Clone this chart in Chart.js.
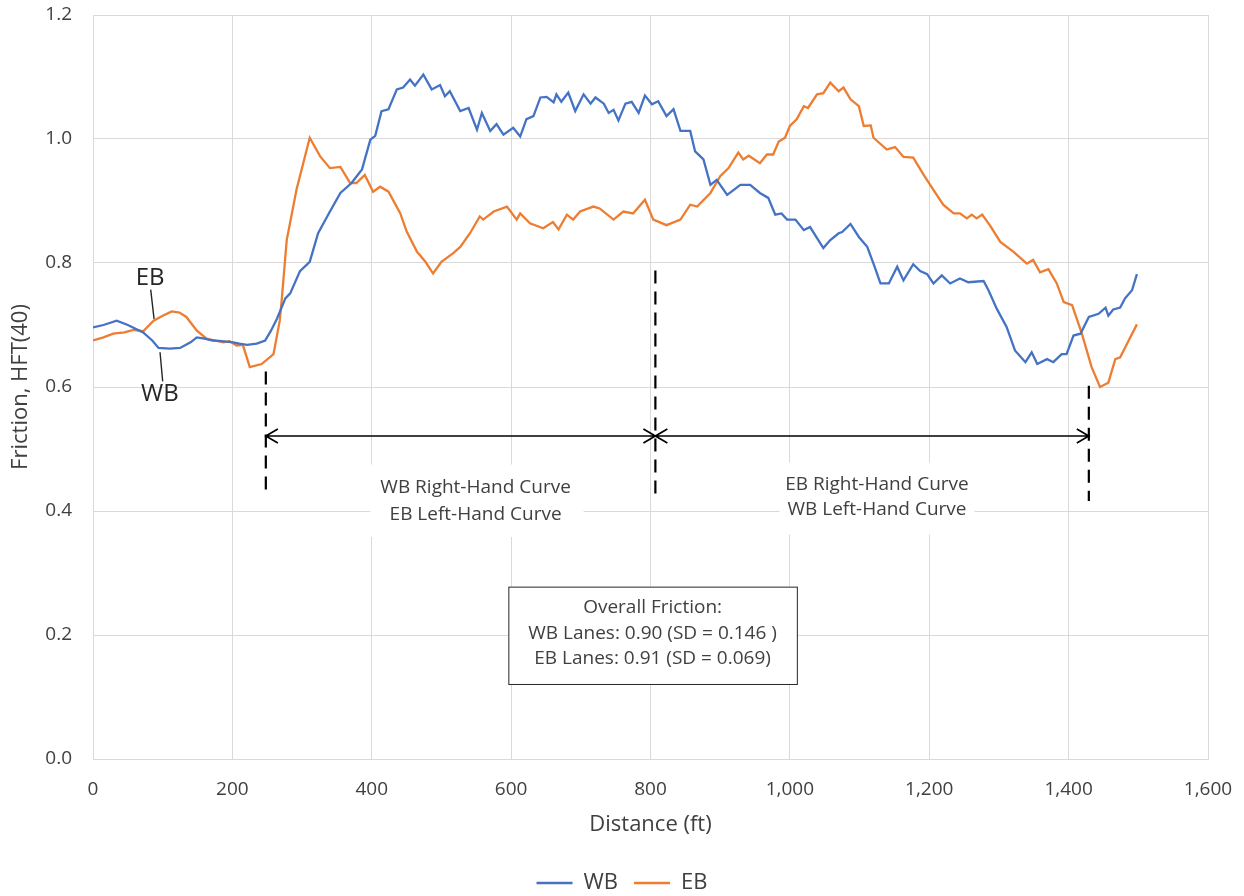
<!DOCTYPE html>
<html>
<head>
<meta charset="utf-8">
<script src="https://cdn.jsdelivr.net/npm/chart.js@4.4.1/dist/chart.umd.min.js"></script>
<style>
  html, body { margin: 0; padding: 0; background: #fff; overflow: hidden; }
  /* a little taller than the window: only empty legend margin falls below 896 */
  #wrap { width: 1244px; height: 904px; position: relative; }
</style>
</head>
<body>
<div id="wrap"><canvas id="chart"></canvas></div>
<script>
/* ── Data (distance in ft, friction HFT(40)) ─────────── */
const wbDist = [0, 15, 34, 50, 72, 85, 94, 110, 125, 140, 149, 160, 172, 185, 201, 210, 221, 235, 247, 255, 264, 276, 283, 297, 311, 323, 340, 355, 371, 386, 398, 405, 414, 424, 436, 445, 455, 462, 474, 486, 498, 505, 512, 527, 539, 551, 558, 570, 579, 589, 603, 613, 622, 632, 642, 651, 661, 665, 672, 682, 692, 704, 714, 721, 733, 740, 747, 754, 764, 773, 783, 792, 802, 811, 823, 833, 843, 857, 864, 876, 886, 895, 910, 929, 943, 957, 969, 979, 988, 996, 1008, 1020, 1029, 1039, 1048, 1058, 1070, 1075, 1087, 1099, 1111, 1120, 1130, 1142, 1154, 1163, 1177, 1187, 1197, 1206, 1218, 1230, 1244, 1256, 1278, 1285, 1297, 1311, 1323, 1338, 1347, 1355, 1369, 1378, 1390, 1397, 1407, 1417, 1429, 1443, 1453, 1457, 1464, 1474, 1481, 1491, 1498];
const wbFriction = [0.696, 0.700, 0.707, 0.700, 0.688, 0.675, 0.663, 0.662, 0.663, 0.672, 0.680, 0.678, 0.675, 0.674, 0.672, 0.670, 0.668, 0.670, 0.675, 0.690, 0.710, 0.743, 0.751, 0.787, 0.802, 0.848, 0.883, 0.913, 0.929, 0.951, 0.999, 1.005, 1.045, 1.048, 1.080, 1.083, 1.096, 1.086, 1.104, 1.080, 1.087, 1.069, 1.077, 1.045, 1.050, 1.015, 1.042, 1.013, 1.024, 1.007, 1.018, 1.004, 1.032, 1.037, 1.067, 1.068, 1.059, 1.072, 1.060, 1.075, 1.045, 1.072, 1.057, 1.067, 1.057, 1.042, 1.047, 1.030, 1.057, 1.060, 1.042, 1.070, 1.056, 1.061, 1.037, 1.048, 1.013, 1.013, 0.980, 0.967, 0.926, 0.934, 0.910, 0.926, 0.926, 0.913, 0.905, 0.878, 0.880, 0.870, 0.870, 0.853, 0.858, 0.840, 0.824, 0.837, 0.848, 0.850, 0.863, 0.842, 0.826, 0.799, 0.767, 0.767, 0.794, 0.772, 0.798, 0.787, 0.782, 0.767, 0.780, 0.767, 0.775, 0.769, 0.771, 0.756, 0.726, 0.697, 0.659, 0.640, 0.656, 0.637, 0.645, 0.640, 0.653, 0.653, 0.683, 0.686, 0.713, 0.718, 0.728, 0.715, 0.725, 0.728, 0.743, 0.756, 0.782];

const ebDist = [0, 15, 29, 45, 58, 72, 87, 100, 113, 124, 134, 149, 163, 175, 187, 196, 206, 215, 225, 242, 259, 268, 271, 278, 292, 311, 326, 340, 355, 369, 378, 390, 402, 412, 424, 441, 450, 465, 477, 488, 500, 517, 527, 541, 555, 560, 575, 594, 608, 613, 627, 646, 660, 668, 680, 689, 699, 718, 727, 747, 761, 775, 792, 804, 823, 843, 857, 867, 886, 900, 912, 926, 933, 941, 957, 967, 976, 984, 993, 1000, 1010, 1020, 1026, 1039, 1048, 1058, 1070, 1077, 1087, 1099, 1106, 1116, 1120, 1139, 1151, 1163, 1177, 1192, 1206, 1220, 1235, 1244, 1254, 1261, 1268, 1276, 1288, 1302, 1321, 1340, 1349, 1359, 1371, 1383, 1393, 1405, 1419, 1433, 1445, 1457, 1467, 1474, 1484, 1498];
const ebFriction = [0.675, 0.680, 0.686, 0.688, 0.692, 0.690, 0.707, 0.715, 0.722, 0.720, 0.713, 0.691, 0.678, 0.675, 0.672, 0.674, 0.667, 0.668, 0.632, 0.637, 0.653, 0.707, 0.743, 0.837, 0.918, 1.002, 0.972, 0.953, 0.955, 0.929, 0.929, 0.942, 0.915, 0.923, 0.915, 0.880, 0.851, 0.818, 0.802, 0.783, 0.802, 0.816, 0.826, 0.848, 0.875, 0.870, 0.883, 0.891, 0.870, 0.880, 0.864, 0.856, 0.866, 0.854, 0.878, 0.870, 0.883, 0.891, 0.888, 0.870, 0.883, 0.880, 0.902, 0.870, 0.861, 0.870, 0.894, 0.891, 0.913, 0.940, 0.953, 0.978, 0.967, 0.973, 0.961, 0.975, 0.975, 0.996, 1.002, 1.021, 1.032, 1.053, 1.050, 1.072, 1.074, 1.091, 1.077, 1.083, 1.064, 1.053, 1.021, 1.022, 1.002, 0.983, 0.987, 0.971, 0.970, 0.942, 0.918, 0.894, 0.880, 0.880, 0.872, 0.878, 0.872, 0.878, 0.859, 0.834, 0.818, 0.799, 0.805, 0.785, 0.790, 0.767, 0.737, 0.732, 0.686, 0.632, 0.600, 0.607, 0.645, 0.648, 0.670, 0.701];

const seriesNames = ['WB', 'EB'];
const xTicks = [0, 200, 400, 600, 800, 1000, 1200, 1400, 1600];
const yTicks = [0, 0.2, 0.4, 0.6, 0.8, 1.0, 1.2];

// curve limits (ft) and annotation text
const curveBounds = [248, 807, 1429];
const curveLabels = [
  ['WB Right-Hand Curve', 'EB Left-Hand Curve'],
  ['EB Right-Hand Curve', 'WB Left-Hand Curve']
];
const summaryLines = ['Overall Friction:', 'WB Lanes: 0.90 (SD = 0.146 )', 'EB Lanes: 0.91 (SD = 0.069)'];

const BLUE = '#4472C4';
const ORANGE = '#ED7D31';
const TEXT = '#404040';
const FONT = '"Open Sans", "Noto Sans", "Liberation Sans", sans-serif';

const toPoints = (xs, ys) => xs.map((x, i) => ({ x, y: ys[i] }));

/* ── Annotation plugin ───────────────────────────────── */
const annotations = {
  id: 'annotations',
  afterDatasetsDraw(chart) {
    const { ctx, scales: { x, y } } = chart;
    const X = v => x.getPixelForValue(v);
    const Y = v => y.getPixelForValue(v);
    ctx.save();

    // white patches behind curve labels
    ctx.fillStyle = '#fff';
    ctx.fillRect(X(398), Y(0.475), X(704) - X(398), Y(0.358) - Y(0.475));
    ctx.fillRect(X(985), Y(0.478), X(1265) - X(985), Y(0.362) - Y(0.478));

    // dashed boundary lines
    ctx.strokeStyle = '#000';
    ctx.lineWidth = 2.2;
    ctx.setLineDash([13, 8]);
    const spans = [[0.625, 0.424], [0.788, 0.416], [0.602, 0.416]];
    curveBounds.forEach((b, i) => {
      ctx.beginPath();
      ctx.moveTo(X(b), Y(spans[i][0]));
      ctx.lineTo(X(b), Y(spans[i][1]));
      ctx.stroke();
    });
    ctx.setLineDash([]);

    // double arrows
    const ay = Y(0.521);
    ctx.lineWidth = 1.7;
    const arrow = (a, b) => {
      const x1 = X(a), x2 = X(b);
      ctx.beginPath();
      ctx.moveTo(x1, ay); ctx.lineTo(x2, ay);
      ctx.moveTo(x1 + 12, ay - 7); ctx.lineTo(x1, ay); ctx.lineTo(x1 + 12, ay + 7);
      ctx.moveTo(x2 - 12, ay - 7); ctx.lineTo(x2, ay); ctx.lineTo(x2 - 12, ay + 7);
      ctx.stroke();
    };
    arrow(curveBounds[0], curveBounds[1]);
    arrow(curveBounds[1], curveBounds[2]);

    // curve labels
    ctx.fillStyle = TEXT;
    ctx.font = '19px ' + FONT;
    ctx.textAlign = 'center';
    ctx.textBaseline = 'middle';
    ctx.fillText(curveLabels[0][0], X(549), Y(0.437));
    ctx.fillText(curveLabels[0][1], X(549), Y(0.395));
    ctx.fillText(curveLabels[1][0], X(1125), Y(0.443));
    ctx.fillText(curveLabels[1][1], X(1125), Y(0.403));

    // summary box
    const bx = X(596), by = Y(0.278), bw = X(1010) - X(596), bh = Y(0.121) - Y(0.278);
    ctx.fillStyle = '#fff';
    ctx.fillRect(bx, by, bw, bh);
    ctx.strokeStyle = '#262626';
    ctx.lineWidth = 1;
    ctx.strokeRect(bx + 0.5, by + 0.5, bw, bh);
    ctx.fillStyle = TEXT;
    ctx.font = '19px ' + FONT;
    [0.244, 0.203, 0.162].forEach((v, i) => ctx.fillText(summaryLines[i], X(803), Y(v)));

    // series callouts
    ctx.font = '24px ' + FONT;
    ctx.fillStyle = '#262626';
    ctx.fillText(seriesNames[1], X(82), Y(0.776));
    ctx.fillText(seriesNames[0], X(96), Y(0.589));
    ctx.strokeStyle = '#262626';
    ctx.lineWidth = 1.4;
    ctx.beginPath();
    ctx.moveTo(X(82.8), Y(0.757)); ctx.lineTo(X(87.6), Y(0.710));
    ctx.moveTo(X(96.2), Y(0.656)); ctx.lineTo(X(100), Y(0.609));
    ctx.stroke();

    ctx.restore();
  }
};

/* ── Chart ───────────────────────────────────────────── */
new Chart(document.getElementById('chart'), {
  type: 'line',
  data: {
    datasets: [
      { label: seriesNames[0], data: toPoints(wbDist, wbFriction), borderColor: BLUE, backgroundColor: BLUE, borderWidth: 2.3 },
      { label: seriesNames[1], data: toPoints(ebDist, ebFriction), borderColor: ORANGE, backgroundColor: ORANGE, borderWidth: 2.3 }
    ]
  },
  options: {
    responsive: true,
    maintainAspectRatio: false,
    animation: false,
    parsing: false,
    elements: {
      line: { tension: 0 },
      point: { radius: 0 }
    },
    layout: { padding: { top: 15, right: 8, left: 8, bottom: 0 } },
    plugins: {
      tooltip: { enabled: false },
      legend: {
        position: 'bottom',
        labels: {
          usePointStyle: true,
          pointStyle: 'line',
          pointStyleWidth: 36,
          color: TEXT,
          font: { family: FONT, size: 22 },
          padding: 16
        }
      }
    },
    scales: {
      x: {
        type: 'linear',
        min: 0,
        max: 1600,
        afterBuildTicks: s => { s.ticks = xTicks.map(value => ({ value })); },
        afterFit: s => { s.height = 97; s.paddingLeft = 0; s.paddingRight = 36; },
        ticks: {
          color: TEXT,
          font: { family: FONT, size: 19 },
          padding: 19,
          maxRotation: 0,
          callback: v => v.toLocaleString('en-US')
        },
        grid: { color: '#d9d9d9', drawTicks: false },
        border: { color: '#d9d9d9' },
        title: {
          display: true,
          text: 'Distance (ft)',
          color: TEXT,
          font: { family: FONT, size: 22 },
          padding: { top: 0, bottom: 18 }
        }
      },
      y: {
        min: 0,
        max: 1.2,
        afterBuildTicks: s => { s.ticks = yTicks.map(value => ({ value })); },
        afterFit: s => { s.width = 85; s.paddingTop = 0; s.paddingBottom = 0; },
        ticks: {
          color: TEXT,
          font: { family: FONT, size: 19 },
          padding: 21,
          callback: v => v.toFixed(1)
        },
        grid: { color: '#d9d9d9', drawTicks: false },
        border: { color: '#d9d9d9' },
        title: {
          display: true,
          text: 'Friction, HFT(40)',
          color: TEXT,
          font: { family: FONT, size: 22 },
          padding: { top: 0, bottom: 0 }
        }
      }
    }
  },
  plugins: [annotations]
});
</script>
</body>
</html>
